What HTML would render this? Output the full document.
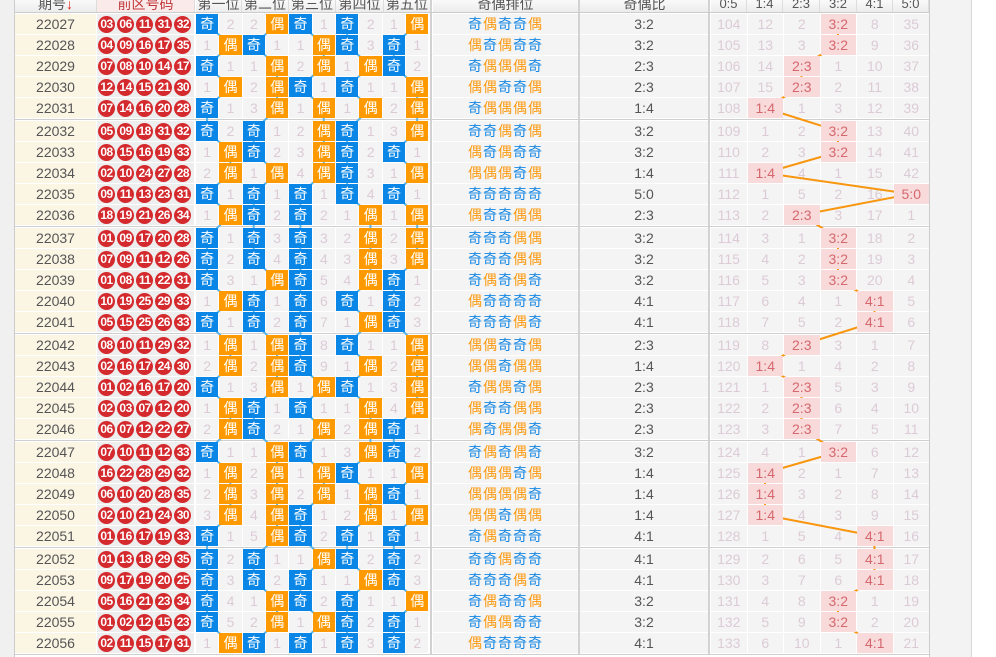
<!DOCTYPE html>
<html><head><meta charset="utf-8">
<style>
html,body{margin:0;padding:0;}
body{width:996px;height:657px;overflow:hidden;position:relative;background:#fff;font-family:"Liberation Sans","Noto Sans CJK SC",sans-serif;}
.c{position:absolute;height:20px;line-height:20px;text-align:center;box-sizing:border-box;white-space:nowrap;}
.h{position:absolute;top:0;height:12px;line-height:8px;text-align:center;font-size:14px;color:#555;background:linear-gradient(#fafafa,#ececec);overflow:hidden;border-right:1px solid #ddd;box-sizing:border-box;}
.ball{position:absolute;width:17px;height:17px;border-radius:50%;background:#d42a2e;color:#fff;font-size:12px;font-weight:bold;line-height:17px;text-align:center;letter-spacing:-0.5px;}
</style></head>
<body>
<div style="position:absolute;left:0;top:0;width:14px;height:657px;background:#f0f0f0;border-right:1px solid #ccc;"></div>
<div style="position:absolute;left:929px;top:0;width:41px;height:657px;background:#f3f3f3;border-left:1px solid #ccc;border-right:1px solid #d8d8d8;"></div>
<div id="table" style="position:absolute;left:15px;top:0;width:914px;height:655px;background:#fff;"></div>
<div class="h" style="left:15px;width:82px;">期号<span style="color:#e0201c;">↓</span></div>
<div class="h" style="left:97px;width:98px;color:#c0393b;background:#fbeaea;">前区号码</div>
<div class="h" style="left:196px;width:46px;">第一位</div>
<div class="h" style="left:242px;width:47px;">第二位</div>
<div class="h" style="left:289px;width:47px;">第三位</div>
<div class="h" style="left:336px;width:48px;">第四位</div>
<div class="h" style="left:384px;width:47px;">第五位</div>
<div class="h" style="left:433px;width:146px;">奇偶排位</div>
<div class="h" style="left:580px;width:130px;">奇偶比</div>
<div class="h" style="left:711px;width:36px;font-size:13px;">0:5</div>
<div class="h" style="left:747px;width:36px;font-size:13px;">1:4</div>
<div class="h" style="left:783px;width:37px;font-size:13px;">2:3</div>
<div class="h" style="left:820px;width:37px;font-size:13px;">3:2</div>
<div class="h" style="left:857px;width:36px;font-size:13px;">4:1</div>
<div class="h" style="left:893px;width:36px;font-size:13px;">5:0</div>
<script>
const issues=["22027","22028","22029","22030","22031","22032","22033","22034","22035","22036","22037","22038","22039","22040","22041","22042","22043","22044","22045","22046","22047","22048","22049","22050","22051","22052","22053","22054","22055","22056"];
const balls=[
["03","06","11","31","32"],["04","09","16","17","35"],["07","08","10","14","17"],["12","14","15","21","30"],["07","14","16","20","28"],
["05","09","18","31","32"],["08","15","16","19","33"],["02","10","24","27","28"],["09","11","13","23","31"],["18","19","21","26","34"],
["01","09","17","20","28"],["07","09","11","12","26"],["01","08","11","22","31"],["10","19","25","29","33"],["05","15","25","26","33"],
["08","10","11","29","32"],["02","16","17","24","30"],["01","02","16","17","20"],["02","03","07","12","20"],["06","07","12","22","27"],
["07","10","11","12","33"],["16","22","28","29","32"],["06","10","20","28","35"],["02","10","21","24","30"],["01","16","17","19","33"],
["01","13","18","29","35"],["09","17","19","20","25"],["05","16","21","23","34"],["01","02","12","15","23"],["02","11","15","17","31"]];
const posMiss=[
[2,2,1,2,1],[1,1,1,3,1],[1,1,2,1,2],[1,2,1,1,1],[1,3,1,1,2],
[2,1,2,1,3],[1,2,3,2,1],[2,1,4,3,1],[1,1,1,4,1],[1,2,2,1,1],
[1,3,3,2,2],[2,4,4,3,3],[3,1,5,4,1],[1,1,6,1,2],[1,2,7,1,3],
[1,1,8,1,1],[2,2,9,1,2],[1,3,1,1,3],[1,1,1,1,4],[2,2,1,2,1],
[1,1,1,3,2],[1,2,1,1,1],[2,3,2,1,1],[3,4,1,2,1],[1,5,2,1,1],
[2,1,1,2,2],[3,2,1,1,3],[4,1,2,1,1],[5,2,1,2,1],[1,1,1,3,2]];
const ratioLabels=["0:5","1:4","2:3","3:2","4:1","5:0"];
const ratioMiss=[
[104,12,2,0,8,35],[105,13,3,0,9,36],[106,14,0,1,10,37],[107,15,0,2,11,38],[108,0,1,3,12,39],
[109,1,2,0,13,40],[110,2,3,0,14,41],[111,0,4,1,15,42],[112,1,5,2,16,0],[113,2,0,3,17,1],
[114,3,1,0,18,2],[115,4,2,0,19,3],[116,5,3,0,20,4],[117,6,4,1,0,5],[118,7,5,2,0,6],
[119,8,0,3,1,7],[120,0,1,4,2,8],[121,1,0,5,3,9],[122,2,0,6,4,10],[123,3,0,7,5,11],
[124,4,1,0,6,12],[125,0,2,1,7,13],[126,0,3,2,8,14],[127,0,4,3,9,15],[128,1,5,4,0,16],
[129,2,6,5,0,17],[130,3,7,6,0,18],[131,4,8,0,1,19],[132,5,9,0,2,20],[133,6,10,1,0,21]];

const body=document.body;
const rowTop=i=>14+i*21+Math.floor(i/5)*2;
const posX=k=>196+k*23.35;
const ratioX=k=>711+k*36.5;
function cell(x,y,w,txt,style,name){
  const d=document.createElement('div');
  d.className='c';
  d.style.left=x+'px';d.style.top=y+'px';d.style.width=w+'px';
  d.style.cssText+=style;
  d.textContent=txt;
  
  
  body.appendChild(d);return d;
}
// separators
for(const sx of [430,578,708]){
  const s=document.createElement('div');
  s.style.cssText='position:absolute;left:'+sx+'px;top:0;width:2px;height:655px;background:#d2d2d2;';
  
  
  body.appendChild(s);
}
const hl=document.createElement('div');
hl.style.cssText='position:absolute;left:15px;top:12px;width:914px;height:1px;background:#ccc;';


body.appendChild(hl);
for(let g=1;g<=6;g++){
  const s=document.createElement('div');
  s.style.cssText='position:absolute;left:15px;top:'+(rowTop(g*5)-2)+'px;width:914px;height:1px;background:#cfcfcf;';
  
  
  body.appendChild(s);
}
const odd=b=>parseInt(b,10)%2===1;
const hiPos=[],hiRatio=[];
issues.forEach((iss,i)=>{
  const y=rowTop(i);
  cell(15,y,81,iss,'background:#fbf5e4;color:#555;font-size:14px;','issue-number');
  const bg=document.createElement('div');
  bg.style.cssText='position:absolute;left:97px;top:'+y+'px;width:97px;height:20px;background:#eeeeee;';
  
  
  body.appendChild(bg);
  balls[i].forEach((b,k)=>{
    const d=document.createElement('div');
    d.className='ball';
    d.style.left=(98+k*19.1)+'px';d.style.top=(y+1.5)+'px';
    d.textContent=b;
    
    
    body.appendChild(d);
  });
  const par=balls[i].map(odd);
  par.forEach((o,p)=>{
    const hk=p*2+(o?0:1), mk=p*2+(o?1:0);
    cell(posX(mk),y,22.3,String(posMiss[i][p]),'background:#f4f4f4;color:#dccbd6;font-size:14px;','position-miss-count');
    hiPos.push({i,p,k:hk,o});
  });
  // parity order
  const po=document.createElement('div');
  po.className='c';
  po.style.cssText+='left:433px;top:'+y+'px;width:145px;background:#f4f4f4;font-size:14px;letter-spacing:1px;';
  
  
  po.innerHTML=par.map(o=>'<span style="color:'+(o?'#1787e3':'#fb9a12')+'">'+(o?'奇':'偶')+'</span>').join('');
  body.appendChild(po);
  const nOdd=par.filter(x=>x).length;
  cell(580,y,128,nOdd+':'+(5-nOdd),'background:#f4f4f4;color:#555;font-size:14px;','parity-ratio');
  ratioMiss[i].forEach((v,k)=>{
    if(k!==nOdd) cell(ratioX(k),y,35.5,String(v),'background:#f4f4f4;color:#dccbd6;font-size:14px;','ratio-miss-count');
  });
  hiRatio.push({i,k:nOdd});
});
// lines
const NS='http://www.w3.org/2000/svg';
const svg=document.createElementNS(NS,'svg');
svg.setAttribute('width','996');svg.setAttribute('height','657');
svg.setAttribute('style','position:absolute;left:0;top:0;');


body.appendChild(svg);
function line(x1,y1,x2,y2,c,name){
  const l=document.createElementNS(NS,'line');
  l.setAttribute('x1',x1);l.setAttribute('y1',y1);l.setAttribute('x2',x2);l.setAttribute('y2',y2);
  l.setAttribute('stroke',c);l.setAttribute('stroke-width','2');
  
  
  svg.appendChild(l);
}
for(let p=0;p<5;p++){
  const pts=hiPos.filter(h=>h.p===p);
  for(let j=1;j<pts.length;j++){
    const a=pts[j-1],b=pts[j];
    line(posX(a.k)+11,rowTop(a.i)+10,posX(b.k)+11,rowTop(b.i)+10,'#5ab6ea','position-trend-line');
  }
}
for(let j=1;j<hiRatio.length;j++){
  const a=hiRatio[j-1],b=hiRatio[j];
  line(ratioX(a.k)+17.5,rowTop(a.i)+10,ratioX(b.k)+17.5,rowTop(b.i)+10,'#f8960f','ratio-trend-line');
}
// highlighted cells on top
hiPos.forEach(h=>{
  cell(posX(h.k),rowTop(h.i),22.3,h.o?'奇':'偶','background:'+(h.o?'#0a86e6':'#fe9a00')+';color:#fff;font-size:14px;',h.o?'odd-marker':'even-marker');
});
hiRatio.forEach(h=>{
  cell(ratioX(h.k),rowTop(h.i),35.5,ratioLabels[h.k],'background:#f9dada;color:#d4686e;font-size:14px;','ratio-marker');
});
</script>
</body></html>
